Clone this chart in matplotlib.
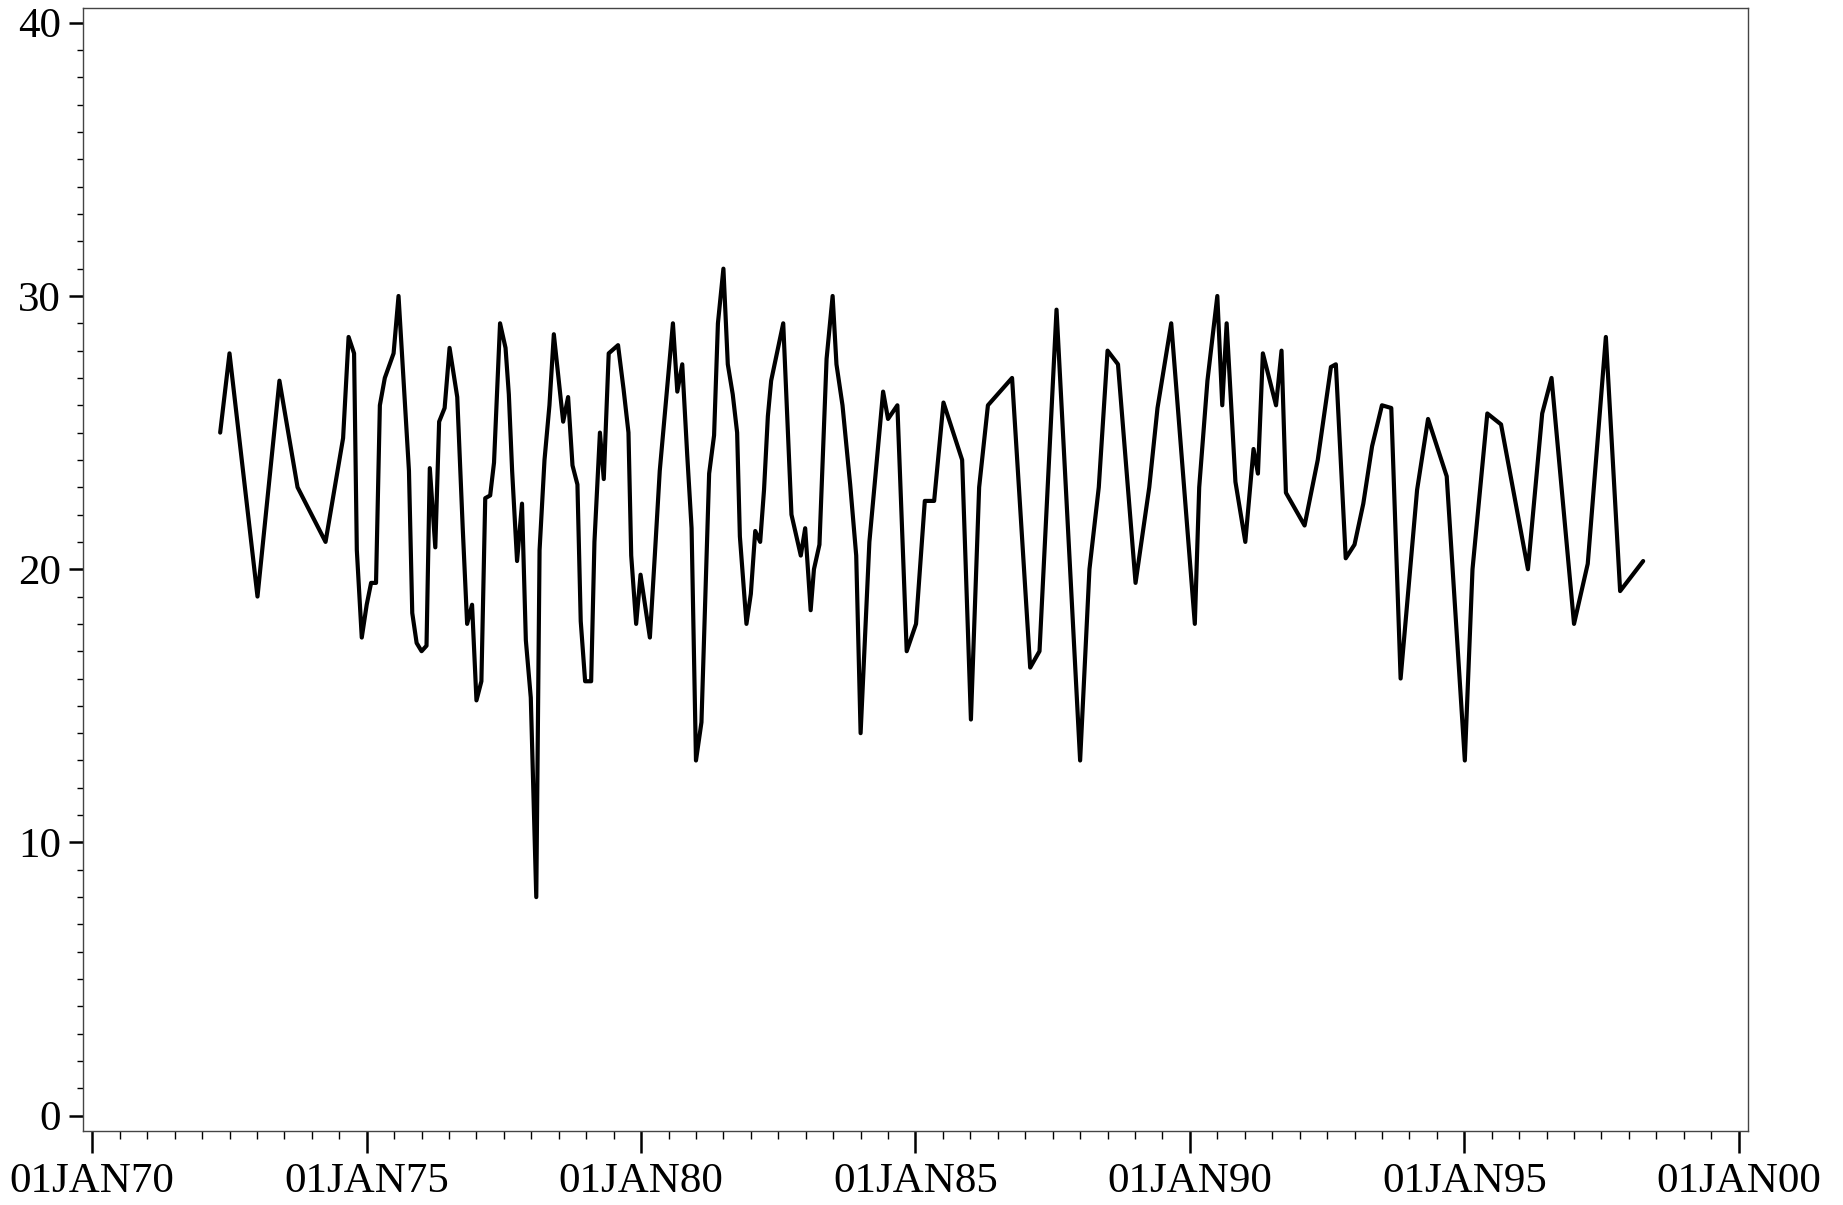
import matplotlib
matplotlib.use("Agg")
import matplotlib.pyplot as plt
from matplotlib.ticker import MultipleLocator, FixedLocator

years = [
    1972.33, 1972.50, 1973.01, 1973.41, 1973.74, 1974.25, 1974.57, 1974.67, 1974.77, 1974.82,
    1974.91, 1975.00, 1975.08, 1975.17, 1975.24, 1975.33, 1975.49, 1975.58, 1975.77, 1975.83,
    1975.91, 1976.00, 1976.09, 1976.15, 1976.25, 1976.32, 1976.42, 1976.51, 1976.65, 1976.75,
    1976.83, 1976.92, 1977.00, 1977.09, 1977.16, 1977.25, 1977.32, 1977.43, 1977.53, 1977.59,
    1977.65, 1977.74, 1977.83, 1977.90, 1977.99, 1978.09, 1978.15, 1978.24, 1978.33, 1978.41,
    1978.58, 1978.67, 1978.75, 1978.84, 1978.90, 1978.98, 1979.09, 1979.15, 1979.25, 1979.32,
    1979.41, 1979.58, 1979.68, 1979.77, 1979.82, 1979.91, 1979.99, 1980.16, 1980.25, 1980.34,
    1980.58, 1980.66, 1980.75, 1980.84, 1980.92, 1981.00, 1981.10, 1981.24, 1981.33, 1981.40,
    1981.50, 1981.58, 1981.67, 1981.75, 1981.80, 1981.92, 1982.00, 1982.08, 1982.17, 1982.24,
    1982.31, 1982.37, 1982.59, 1982.74, 1982.91, 1982.99, 1983.09, 1983.15, 1983.25, 1983.38,
    1983.49, 1983.56, 1983.67, 1983.81, 1983.92, 1984.00, 1984.16, 1984.41, 1984.50, 1984.67,
    1984.84, 1985.01, 1985.17, 1985.34, 1985.51, 1985.85, 1986.01, 1986.16, 1986.32, 1986.76,
    1987.09, 1987.26, 1987.57, 1988.00, 1988.17, 1988.34, 1988.50, 1988.69, 1989.01, 1989.26,
    1989.41, 1989.66, 1990.09, 1990.17, 1990.32, 1990.50, 1990.59, 1990.67, 1990.83, 1991.01,
    1991.16, 1991.24, 1991.33, 1991.57, 1991.67, 1991.75, 1992.09, 1992.33, 1992.57, 1992.66,
    1992.84, 1993.00, 1993.16, 1993.32, 1993.50, 1993.67, 1993.84, 1994.14, 1994.34, 1994.68,
    1995.01, 1995.15, 1995.42, 1995.67, 1996.16, 1996.42, 1996.59, 1997.00, 1997.25, 1997.58,
    1997.84, 1998.26,
]
values = [
    25.0, 27.9, 19.0, 26.9, 23.0, 21.0, 24.8, 28.5, 27.9, 20.7,
    17.5, 18.7, 19.5, 19.5, 26.0, 27.0, 27.9, 30.0, 23.6, 18.4,
    17.3, 17.0, 17.2, 23.7, 20.8, 25.4, 25.9, 28.1, 26.3, 21.5,
    18.0, 18.7, 15.2, 15.9, 22.6, 22.7, 23.9, 29.0, 28.1, 26.4,
    23.6, 20.3, 22.4, 17.4, 15.3, 8.0, 20.7, 24.0, 26.0, 28.6,
    25.4, 26.3, 23.8, 23.1, 18.1, 15.9, 15.9, 21.0, 25.0, 23.3,
    27.9, 28.2, 26.6, 25.0, 20.5, 18.0, 19.8, 17.5, 20.5, 23.6,
    29.0, 26.5, 27.5, 24.2, 21.5, 13.0, 14.4, 23.5, 24.9, 29.0,
    31.0, 27.5, 26.4, 25.0, 21.2, 18.0, 19.1, 21.4, 21.0, 22.9,
    25.6, 26.9, 29.0, 22.0, 20.5, 21.5, 18.5, 20.0, 20.9, 27.7,
    30.0, 27.5, 26.0, 23.1, 20.5, 14.0, 21.0, 26.5, 25.5, 26.0,
    17.0, 18.0, 22.5, 22.5, 26.1, 24.0, 14.5, 23.0, 26.0, 27.0,
    16.4, 17.0, 29.5, 13.0, 20.0, 23.0, 28.0, 27.5, 19.5, 23.0,
    25.9, 29.0, 18.0, 23.0, 26.9, 30.0, 26.0, 29.0, 23.2, 21.0,
    24.4, 23.5, 27.9, 26.0, 28.0, 22.8, 21.6, 24.0, 27.4, 27.5,
    20.4, 20.9, 22.4, 24.5, 26.0, 25.9, 16.0, 22.9, 25.5, 23.4,
    13.0, 20.0, 25.7, 25.3, 20.0, 25.7, 27.0, 18.0, 20.2, 28.5,
    19.2, 20.3,
]

x_tick_years = [1970, 1975, 1980, 1985, 1990, 1995, 2000]
x_tick_labels = ["01JAN70", "01JAN75", "01JAN80", "01JAN85", "01JAN90", "01JAN95", "01JAN00"]
y_ticks = [0, 10, 20, 30, 40]

plt.rcParams["font.family"] = ["Liberation Serif", "DejaVu Serif"]

fig = plt.figure(figsize=(18.43, 12.05), dpi=100)
ax = fig.add_axes([0.0452, 0.0614, 0.9034, 0.9322])

ax.plot(years, values, color="black", lw=3.0, solid_joinstyle="round", solid_capstyle="round")

ax.set_xlim(1969.836, 2000.175)
ax.set_ylim(-0.56, 40.55)

ax.xaxis.set_major_locator(FixedLocator(x_tick_years))
ax.set_xticklabels(x_tick_labels)
ax.xaxis.set_minor_locator(MultipleLocator(0.5))
ax.yaxis.set_major_locator(FixedLocator(y_ticks))
ax.yaxis.set_minor_locator(MultipleLocator(1))

ax.tick_params(axis="x", which="major", length=16, width=1.8, direction="out",
               labelsize=31, pad=7, color="black")
ax.tick_params(axis="x", which="minor", length=6, width=1.0, direction="out", color="black")
ax.tick_params(axis="y", which="major", length=10, width=1.8, direction="out",
               labelsize=31, pad=6, color="black")
ax.tick_params(axis="y", which="minor", length=4, width=1.0, direction="out", color="black")

for s in ax.spines.values():
    s.set_linewidth(1.0)
    s.set_color("#444444")

fig.savefig("out.png", dpi=100)
